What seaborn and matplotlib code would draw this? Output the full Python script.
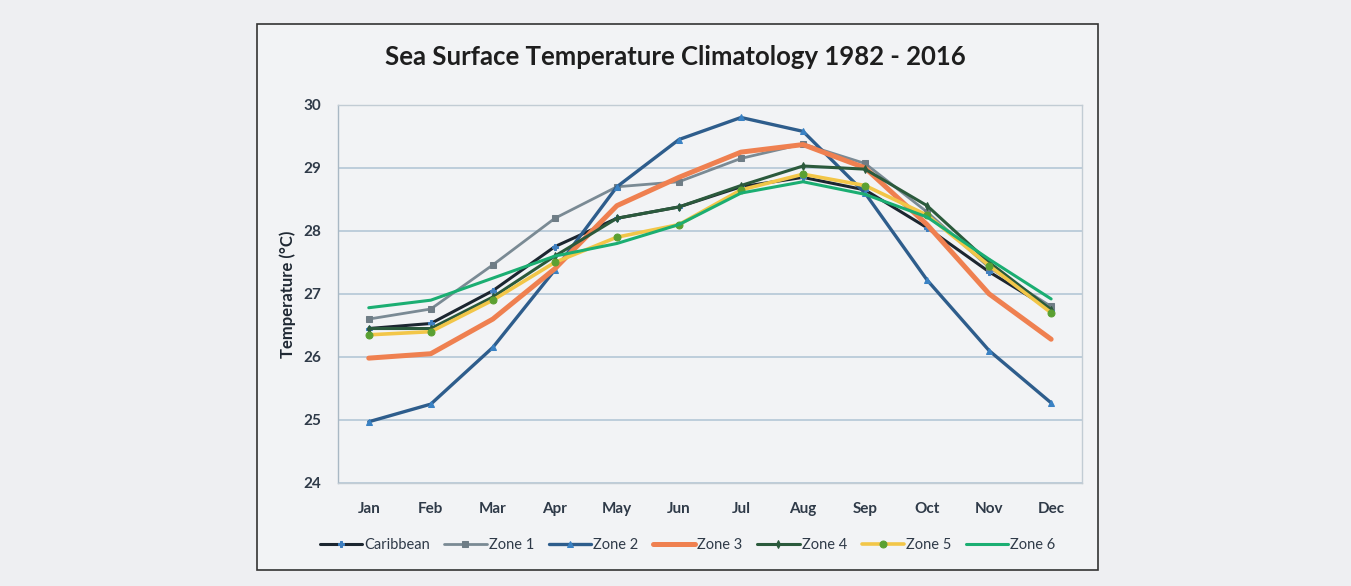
import matplotlib
matplotlib.use("Agg")
import matplotlib.pyplot as plt
import seaborn as sns
import pandas as pd
from matplotlib.patches import Rectangle

#%% data
months = ["Jan", "Feb", "Mar", "Apr", "May", "Jun",
          "Jul", "Aug", "Sep", "Oct", "Nov", "Dec"]

caribbean = [26.45, 26.53, 27.05, 27.75, 28.20, 28.38, 28.70, 28.85, 28.65, 28.05, 27.35, 26.75]
zone_1 = [26.60, 26.76, 27.46, 28.20, 28.70, 28.78, 29.15, 29.38, 29.07, 28.30, 27.42, 26.80]
zone_2 = [24.97, 25.25, 26.15, 27.38, 28.70, 29.45, 29.80, 29.58, 28.60, 27.22, 26.10, 25.27]
zone_3 = [25.98, 26.05, 26.60, 27.40, 28.40, 28.85, 29.25, 29.37, 29.00, 28.10, 27.00, 26.28]
zone_4 = [26.45, 26.45, 26.95, 27.60, 28.20, 28.38, 28.72, 29.03, 28.98, 28.40, 27.50, 26.75]
zone_5 = [26.35, 26.40, 26.90, 27.50, 27.90, 28.10, 28.65, 28.90, 28.72, 28.25, 27.45, 26.70]
zone_6 = [26.78, 26.90, 27.25, 27.60, 27.80, 28.10, 28.60, 28.78, 28.58, 28.22, 27.55, 26.92]

series_names = ["Caribbean", "Zone 1", "Zone 2", "Zone 3", "Zone 4", "Zone 5", "Zone 6"]
series_vals = [caribbean, zone_1, zone_2, zone_3, zone_4, zone_5, zone_6]

# line colour, marker, marker colour, line width, marker size
styles = {
    "Caribbean": ("#1c2630", "P", "#3f7fc0", 2.2, 5),
    "Zone 1": ("#7a8a94", "s", "#6f7d86", 2.0, 5),
    "Zone 2": ("#2e5d8c", "^", "#3a82c4", 2.4, 5),
    "Zone 3": ("#ef8050", None, None, 3.6, 0),
    "Zone 4": ("#2b5a3c", "d", "#2b5a3c", 2.2, 4),
    "Zone 5": ("#f2c648", "o", "#5aa032", 2.6, 5),
    "Zone 6": ("#1bae72", None, None, 2.2, 0),
}

bg = "#f2f3f5"
txt = "#2f3a48"

#%% plot
sns.set_style("white")
plt.rcParams["font.family"] = ["Lato", "DejaVu Sans"]

fig = plt.figure(figsize=(13.51, 5.86), dpi=100)
fig.patch.set_facecolor("#eeeff2")

# chart frame (behind the axes)
fig.patches.append(Rectangle((0.190, 0.027), 0.623, 0.932, transform=fig.transFigure,
                             facecolor=bg, edgecolor="#333333", linewidth=1.2, zorder=-5))

ax = fig.add_axes([0.250, 0.176, 0.551, 0.645])
ax.set_facecolor(bg)

for name, vals in zip(series_names, series_vals):
    col, mk, mcol, lw, ms = styles[name]
    df = pd.DataFrame({"Month": range(len(months)), "Temp": vals})
    sns.lineplot(data=df, x="Month", y="Temp", ax=ax, color=col, linewidth=lw,
                 marker=mk, markersize=ms,
                 markerfacecolor=mcol, markeredgecolor=mcol, label=name)

ax.set_xlim(-0.5, 11.5)
ax.set_ylim(24, 30)
ax.set_yticks(range(24, 31))
ax.set_xticks(range(len(months)))
ax.set_xticklabels(months)
ax.yaxis.grid(True, color="#b9cbd9", linewidth=1.3)
ax.xaxis.grid(False)
for s in ax.spines.values():
    s.set_color("#c2ccd4")
    s.set_linewidth(1.0)
ax.spines["left"].set_color("#a9b8c4")
ax.tick_params(axis="both", length=0, labelsize=11, colors=txt, pad=12)
ax.tick_params(axis="x", pad=14)
for lab in ax.get_xticklabels() + ax.get_yticklabels():
    lab.set_fontweight("bold")
ax.set_xlabel("")
ax.set_ylabel("Temperature (°C)", fontsize=12, fontweight="bold", color="#1f2833", labelpad=5)

fig.text(0.4997, 0.903, "Sea Surface Temperature Climatology 1982 - 2016",
         ha="center", va="center", fontsize=18.5, fontweight="bold", color="#1e1e1e")

ax.legend(loc="center", bbox_to_anchor=(0.47, -0.164), ncol=7, frameon=False,
          fontsize=10.5, handlelength=2.9, handletextpad=0.15, columnspacing=1.0,
          labelcolor=txt)

fig.savefig("out.png", dpi=100, facecolor=fig.get_facecolor())
